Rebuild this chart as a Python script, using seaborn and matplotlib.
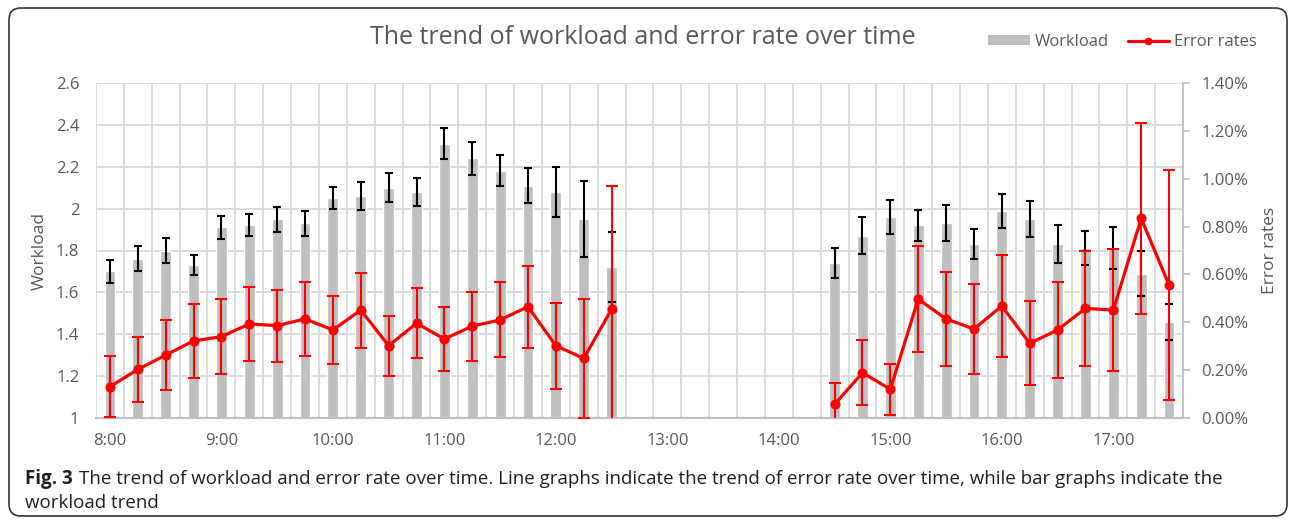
import numpy as np
import pandas as pd
import matplotlib.pyplot as plt
import seaborn as sns
from matplotlib.patches import FancyBboxPatch, Patch
from matplotlib.lines import Line2D
from matplotlib.ticker import PercentFormatter, FixedLocator
from matplotlib.transforms import IdentityTransform

sns.set_style("white")
plt.rcParams['font.family'] = ['Open Sans', 'DejaVu Sans']

nan = np.nan

times = ["8:00", "8:15", "8:30", "8:45", "9:00", "9:15", "9:30", "9:45",
         "10:00", "10:15", "10:30", "10:45", "11:00", "11:15", "11:30", "11:45",
         "12:00", "12:15", "12:30", "12:45", "13:00", "13:15", "13:30", "13:45",
         "14:00", "14:15", "14:30", "14:45", "15:00", "15:15", "15:30", "15:45",
         "16:00", "16:15", "16:30", "16:45", "17:00", "17:15", "17:30"]

hour_labels = ["8:00", "9:00", "10:00", "11:00", "12:00", "13:00", "14:00", "15:00", "16:00", "17:00"]

workload = [1.70, 1.76, 1.80, 1.73, 1.91, 1.92, 1.95, 1.93, 2.05, 2.06, 2.10, 2.08,
            2.31, 2.24, 2.18, 2.11, 2.08, 1.95, 1.72,
            nan, nan, nan, nan, nan, nan, nan,
            1.74, 1.87, 1.96, 1.92, 1.93, 1.83, 1.99, 1.95, 1.83, 1.81, 1.81, 1.69, 1.46]

workload_err = [0.056, 0.060, 0.060, 0.048, 0.057, 0.053, 0.060, 0.060, 0.052, 0.065, 0.070, 0.066,
                0.074, 0.080, 0.074, 0.083, 0.121, 0.183, 0.166,
                nan, nan, nan, nan, nan, nan, nan,
                0.070, 0.088, 0.083, 0.074, 0.086, 0.072, 0.082, 0.087, 0.090, 0.081, 0.100, 0.109, 0.086]

# error rates in percent
error_rate = [0.131, 0.203, 0.263, 0.322, 0.340, 0.393, 0.386, 0.414, 0.368, 0.451, 0.302, 0.396,
              0.330, 0.384, 0.410, 0.465, 0.302, 0.249, 0.455,
              nan, nan, nan, nan, nan, nan, nan,
              0.057, 0.189, 0.120, 0.497, 0.414, 0.372, 0.468, 0.312, 0.368, 0.458, 0.451, 0.834, 0.556]

error_err = [0.128, 0.136, 0.146, 0.155, 0.156, 0.154, 0.150, 0.156, 0.143, 0.157, 0.125, 0.147,
             0.135, 0.144, 0.157, 0.171, 0.180, 0.247, 0.514,
             nan, nan, nan, nan, nan, nan, nan,
             0.090, 0.135, 0.107, 0.222, 0.195, 0.190, 0.215, 0.175, 0.200, 0.240, 0.254, 0.400, 0.480]

session = ["am"] * 19 + ["off"] * 7 + ["pm"] * 13

df = pd.DataFrame({"time": times, "pos": np.arange(len(times)), "workload": workload,
                   "workload_err": workload_err, "error_rate": error_rate,
                   "error_err": error_err, "session": session})

TXT = "#595959"
GRID = "#D9D9D9"
BAR = "#BFBFBF"

fig = plt.figure(figsize=(12.93, 5.21), dpi=100)
ax = fig.add_axes([96 / 1293, 1 - 418 / 521, (1183 - 96) / 1293, (418 - 83) / 521])

sns.barplot(data=df, x="time", y="workload", order=times, color=BAR, saturation=1,
            width=0.39, errorbar=None, ax=ax)
ax.errorbar(df["pos"], df["workload"], yerr=df["workload_err"], fmt="none",
            ecolor="black", elinewidth=1.5, capsize=3.2, capthick=1.5)

ax2 = ax.twinx()
line_df = df.dropna(subset=["error_rate"])
sns.lineplot(data=line_df, x="pos", y="error_rate", units="session", estimator=None,
             color="red", marker="o", markersize=6.5, markeredgecolor="red",
             linewidth=2.3, legend=False, ax=ax2)
ax2.errorbar(line_df["pos"], line_df["error_rate"], yerr=line_df["error_err"], fmt="none",
             ecolor="red", elinewidth=1.5, capsize=4, capthick=1.5)

ax.set_xlim(-0.5, len(times) - 0.5)
ax.set_ylim(1, 2.6)
ax2.set_ylim(0, 1.4)

ax.set_yticks(np.arange(1, 2.61, 0.2))
ax.set_yticklabels(["1", "1.2", "1.4", "1.6", "1.8", "2", "2.2", "2.4", "2.6"])
ax2.set_yticks(np.arange(0, 1.41, 0.2))
ax2.yaxis.set_major_formatter(PercentFormatter(xmax=100, decimals=2))

ax.set_xticks([times.index(h) for h in hour_labels])
ax.set_xticklabels(hour_labels)
ax.xaxis.set_minor_locator(FixedLocator(np.arange(-0.5, len(times), 1.0)))

ax.set_axisbelow(True)
ax.grid(False)
ax.grid(True, which="minor", axis="x", color=GRID, linewidth=1.3)
ax.grid(True, which="major", axis="y", color=GRID, linewidth=1.3)

ax.tick_params(axis="x", which="both", length=0, pad=11, labelsize=12, labelcolor=TXT)
ax.tick_params(axis="y", length=0, pad=12, labelsize=12, labelcolor=TXT)
ax2.tick_params(axis="y", length=5, width=1.2, color=BAR, pad=8, labelsize=12, labelcolor=TXT)

for s in ["top", "left"]:
    ax.spines[s].set_visible(False)
    ax2.spines[s].set_visible(False)
ax.spines["right"].set_visible(False)
ax.spines["bottom"].set_color(BAR)
ax.spines["bottom"].set_linewidth(1.5)
ax2.spines["bottom"].set_visible(False)
ax2.spines["right"].set_color(BAR)
ax2.spines["right"].set_linewidth(1.3)

ax.set_xlabel("")
ax.set_ylabel("Workload", fontsize=12.5, color=TXT, labelpad=6)
ax2.set_ylabel("Error rates", fontsize=12.5, color=TXT, labelpad=10)

fig.text(643 / 1293, 1 - 38 / 521, "The trend of workload and error rate over time",
         ha="center", va="center", fontsize=18, color=TXT)

handles = [Patch(facecolor=BAR, edgecolor="none"),
           Line2D([], [], color="red", linewidth=2.3, marker="o", markersize=4.5)]
fig.legend(handles, ["Workload", "Error rates"], loc="center right",
           bbox_to_anchor=(1272 / 1293, 1 - 42 / 521), ncol=2, frameon=False,
           fontsize=12, handlelength=2.5, handleheight=0.55, handletextpad=0.3,
           columnspacing=1.1, labelcolor=TXT)

# caption
cap_color = "#231F20"
t_bold = fig.text(25 / 1293, 1 - 484 / 521, "Fig. 3", fontsize=13.5, fontweight="bold",
                  color=cap_color, va="baseline")
fig.canvas.draw()
bb = t_bold.get_window_extent()
fig.text((bb.x1 + 6) / 1293, 1 - 484 / 521,
         "The trend of workload and error rate over time. Line graphs indicate the trend of error rate over time, while bar graphs indicate the",
         fontsize=13.5, color=cap_color, va="baseline")
fig.text(25 / 1293, 1 - 508 / 521, "workload trend", fontsize=13.5, color=cap_color, va="baseline")

border = FancyBboxPatch((9, 5), 1278, 508, boxstyle="round,pad=0,rounding_size=12",
                        transform=IdentityTransform(), facecolor="none",
                        edgecolor="#333333", linewidth=1.2)
fig.patches.append(border)

fig.savefig("out.png", dpi=100)
